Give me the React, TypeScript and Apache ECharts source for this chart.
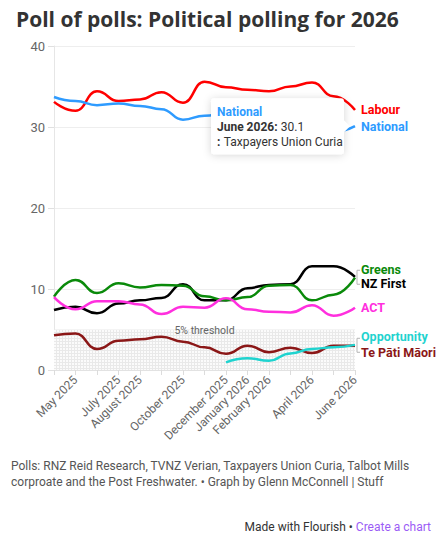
import React, { useEffect, useRef } from "react";
import * as echarts from "echarts";

// Monthly poll-of-polls averages
const months = [
  "April 2025", "May 2025", "June 2025", "July 2025", "August 2025",
  "September 2025", "October 2025", "November 2025", "December 2025",
  "January 2026", "February 2026", "March 2026", "April 2026", "May 2026", "June 2026",
];
const labelledMonths = [
  "May 2025", "July 2025", "August 2025", "October 2025", "December 2025",
  "January 2026", "February 2026", "April 2026", "June 2026",
];

const labour = [33.1, 32.0, 34.4, 33.2, 33.4, 34.3, 33.0, 35.6, 34.9, 34.6, 34.4, 35.0, 35.5, 33.8, 32.1];
const national = [33.7, 33.2, 32.7, 32.9, 32.6, 32.2, 30.9, 31.4, 31.7, 31.8, 31.5, 31.2, 30.8, 29.4, 30.1];
const greens = [9.05, 11.1, 9.5, 10.7, 10.2, 10.5, 10.4, 9.1, 8.6, 9.0, 10.4, 10.5, 8.6, 9.3, 11.4];
const nzFirst = [7.4, 7.8, 7.0, 8.2, 8.6, 8.9, 10.6, 8.6, 8.6, 10.1, 10.5, 10.6, 12.8, 12.8, 11.5];
const act = [9.0, 7.5, 8.5, 8.5, 8.1, 6.9, 7.8, 7.7, 8.85, 7.5, 7.2, 7.1, 8.0, 6.7, 7.7];
const opportunity = [null, null, null, null, null, null, null, null, 0.95, 1.45, 1.15, 2.05, 2.6, 2.8, 3.1];
const tePatiMaori = [4.3, 4.5, 2.6, 3.6, 3.8, 4.1, 3.5, 2.8, 2.0, 3.0, 2.2, 2.75, 2.1, 3.0, 3.0];

const yTicks = [0, 10, 20, 30, 40];
const threshold = 5;

const tipSource = "Taxpayers Union Curia";

const FONT = "Roboto, 'Noto Sans', sans-serif";
const TITLE_FONT = "'Open Sans', Roboto, sans-serif";

const parties = [
  { name: "Labour", data: labour, color: "#ff0000", dy: 0 },
  { name: "National", data: national, color: "#2e9bff", dy: 0 },
  { name: "NZ First", data: nzFirst, color: "#000000", dy: 7 },
  { name: "Greens", data: greens, color: "#0a8a0a", dy: -8 },
  { name: "ACT", data: act, color: "#ff2fde", dy: 0 },
  { name: "Te Pāti Māori", data: tePatiMaori, color: "#8b1717", dy: 7 },
  { name: "Opportunity", data: opportunity, color: "#1fd3cf", dy: -8 },
];

const gridPattern =
  "data:image/svg+xml;charset=utf-8," +
  encodeURIComponent(
    '<svg xmlns="http://www.w3.org/2000/svg" width="3" height="3">' +
      '<rect width="3" height="3" fill="#fbfbfb"/>' +
      '<path d="M2.5 0V3M0 2.5H3" stroke="#e9e9e9" stroke-width="1"/>' +
      "</svg>"
  );

export default function App() {
  const ref = useRef<HTMLDivElement>(null);

  useEffect(() => {
    document.body.style.margin = "0";
    const chart = echarts.init(ref.current!, null, { renderer: "svg" });
    const last = months.length - 1;

    const series: any[] = parties.map((p, i) => ({
      name: p.name,
      type: "line",
      data: p.data,
      smooth: true,
      smoothMonotone: "x",
      symbol: "none",
      connectNulls: false,
      z: 3,
      lineStyle: { color: p.color, width: 2.5 },
      itemStyle: { color: p.color },
      endLabel: {
        show: true,
        formatter: "{a}",
        color: p.color,
        fontFamily: FONT,
        fontWeight: "bold",
        fontSize: 12.5,
        distance: 6,
        offset: [0, p.dy],
      },
      markArea:
        i === parties.length - 1
          ? {
              silent: true,
              z: 1,
              itemStyle: {
                color: {
                  image: gridPattern,
                  repeat: "repeat",
                  imageWidth: 3,
                  imageHeight: 3,
                },
              },
              label: {
                show: true,
                position: "top",
                distance: -6,
                formatter: `${threshold}% threshold`,
                color: "#666",
                fontFamily: FONT,
                fontSize: 10.5,
              },
              data: [[{ yAxis: 0 }, { yAxis: threshold }]],
            }
          : undefined,
    }));

    chart.setOption({
      animation: false,
      title: {
        text: "Poll of polls: Political polling for 2026",
        left: 11,
        top: 3,
        textStyle: { fontFamily: TITLE_FONT, fontSize: 21, fontWeight: "bold", color: "#333" },
      },
      grid: { left: 54, right: 86, top: 46, bottom: 174 },
      xAxis: {
        type: "category",
        data: months,
        boundaryGap: false,
        axisLine: { lineStyle: { color: "#e2e2e2" } },
        axisTick: { show: true, interval: 0, length: 5, lineStyle: { color: "#dcdcdc" } },
        axisLabel: {
          interval: (idx: number, val: string) => labelledMonths.includes(val),
          rotate: 45,
          margin: 8,
          color: "#666",
          fontFamily: FONT,
          fontSize: 12,
        },
        splitLine: { show: false },
      },
      yAxis: {
        type: "value",
        min: yTicks[0],
        max: yTicks[yTicks.length - 1],
        interval: 10,
        axisLine: { show: true, lineStyle: { color: "#e6e6e6" } },
        axisTick: { show: true, length: 6, lineStyle: { color: "#e0e0e0" } },
        axisLabel: { margin: 9, color: "#666", fontFamily: FONT, fontSize: 13 },
        splitLine: { lineStyle: { color: "#eeeeee" } },
      },
      series,
    });

    // Brackets tying together end labels that sit close to each other
    const endPx = (name: string) => {
      const p = parties.find((q) => q.name === name)!;
      return chart.convertToPixel({ gridIndex: 0 }, [last, p.data[last] as number]) as number[];
    };
    const bracket = (a: string, b: string) => {
      const pa = endPx(a);
      const pb = endPx(b);
      const mid = (pa[1] + pb[1]) / 2;
      const x = pa[0] + 2;
      return {
        type: "polyline",
        silent: true,
        z: 10,
        shape: { points: [[x + 3, mid - 7], [x, mid - 7], [x, mid + 7], [x + 3, mid + 7]] },
        style: { stroke: "#b5b5b5", lineWidth: 1, fill: null },
      };
    };

    // Hover card for National's latest poll
    const np = endPx("National");
    const boxRight = np[0] - 11;
    const boxW = 133;
    const boxH = 56;
    const boxLeft = boxRight - boxW;
    const boxTop = np[1] - boxH / 2;
    const TZ = 100;

    chart.setOption({
      graphic: [
        bracket("Greens", "NZ First"),
        bracket("Opportunity", "Te Pāti Māori"),
        {
          type: "rect",
          z: TZ,
          silent: true,
          shape: { x: boxLeft, y: boxTop, width: boxW, height: boxH, r: 3 },
          style: {
            fill: "#fff",
            shadowBlur: 8,
            shadowColor: "rgba(0,0,0,0.16)",
            shadowOffsetY: 1,
          },
        },
        {
          type: "polygon",
          z: TZ,
          silent: true,
          shape: { points: [[boxRight - 1, np[1] - 7], [boxRight + 6, np[1]], [boxRight - 1, np[1] + 7]] },
          style: { fill: "#fff" },
        },
        {
          type: "text",
          z: TZ + 1,
          silent: true,
          x: boxLeft + 6,
          y: boxTop + 14,
          style: {
            text: "National",
            fill: parties[1].color,
            font: `bold 12px ${FONT}`,
            verticalAlign: "middle",
          },
        },
        {
          type: "text",
          z: TZ + 1,
          silent: true,
          x: boxLeft + 6,
          y: boxTop + 29,
          style: {
            text: `{b|${months[last]}:} {v|${national[last]}}`,
            verticalAlign: "middle",
            rich: {
              b: { fontFamily: FONT, fontSize: 12, fontWeight: "bold", fill: "#333" },
              v: { fontFamily: FONT, fontSize: 12, fill: "#333" },
            },
          },
        },
        {
          type: "text",
          z: TZ + 1,
          silent: true,
          x: boxLeft + 6,
          y: boxTop + 44,
          style: {
            text: `{b|:} {v|${tipSource}}`,
            verticalAlign: "middle",
            rich: {
              b: { fontFamily: FONT, fontSize: 12, fontWeight: "bold", fill: "#333" },
              v: { fontFamily: FONT, fontSize: 12, fill: "#333" },
            },
          },
        },
        {
          type: "text",
          left: 11,
          top: 458,
          style: {
            text:
              "Polls: RNZ Reid Research, TVNZ Verian, Taxpayers Union Curia, Talbot Mills\ncorproate and the Post Freshwater. • Graph by Glenn McConnell | Stuff",
            fill: "#555",
            font: `12px ${FONT}`,
            lineHeight: 16,
          },
        },
        {
          type: "text",
          right: 10,
          top: 521,
          style: {
            text: "{a|Made with Flourish • }{b|Create a chart}",
            rich: {
              a: { fontFamily: FONT, fontSize: 12, fill: "#333" },
              b: { fontFamily: FONT, fontSize: 12, fill: "#9b5cf6" },
            },
          },
        },
      ],
    });

    return () => chart.dispose();
  }, []);

  return <div ref={ref} style={{ width: 441, height: 544 }} />;
}
